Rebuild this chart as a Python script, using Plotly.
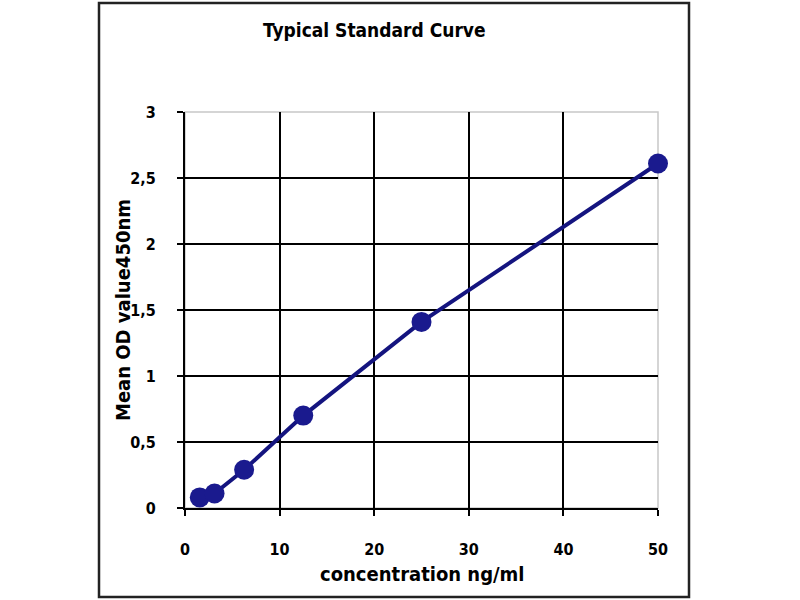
import plotly.graph_objects as go

concentration = [1.56, 3.12, 6.25, 12.5, 25, 50]
mean_od = [0.08, 0.11, 0.29, 0.70, 1.41, 2.61]

x_ticks = [0, 10, 20, 30, 40, 50]
y_ticks = [0, 0.5, 1, 1.5, 2, 2.5, 3]
y_tick_text = ["0", "0,5", "1", "1,5", "2", "2,5", "3"]

FONT = "DejaVu Sans Condensed, Liberation Sans Narrow, Arial Narrow, DejaVu Sans, sans-serif"
NAVY = "#14147f"

fig = go.Figure()
fig.add_trace(go.Scatter(
    x=concentration, y=mean_od, mode="lines+markers",
    line=dict(color=NAVY, width=4),
    marker=dict(color="#1a1a8e", size=20, line=dict(width=0)),
    cliponaxis=False, showlegend=False,
))

# body margin is removed by post_script, so the figure starts at (0, 0)
FW, FH = 800, 600
L, T = 185, 112
R = FW - 658
B = FH - 508
W, H = FW - L - R, FH - T - B


def px(xp):
    return (xp - L) / W


def py(yp):
    return (FH - B - yp) / H


fig.update_layout(
    width=FW, height=FH,
    margin=dict(l=L, r=R, t=T, b=B),
    paper_bgcolor="white", plot_bgcolor="white",
    font=dict(family=FONT, color="black"),
)

fig.update_xaxes(
    range=[0, 50], tickvals=x_ticks, ticks="outside", ticklen=6, tickwidth=2,
    tickcolor="black", showline=True, linecolor="black", linewidth=2,
    showgrid=False, zeroline=False,
    tickfont=dict(size=16, family=FONT, weight="bold"),
    ticklabelstandoff=20,
    minor=dict(tickvals=[10, 20, 30, 40], showgrid=True, gridcolor="black", gridwidth=2, ticks=""),
)
fig.update_yaxes(
    range=[0, 3], tickvals=y_ticks, ticktext=y_tick_text, ticks="outside", ticklen=6, tickwidth=2,
    tickcolor="black", showline=True, linecolor="black", linewidth=2,
    showgrid=False, zeroline=False,
    tickfont=dict(size=16, family=FONT, weight="bold"),
    ticklabelstandoff=18,
    minor=dict(tickvals=[0.5, 1, 1.5, 2, 2.5], showgrid=True, gridcolor="black", gridwidth=2, ticks=""),
)

# light gray plot-area frame (top and right edges)
fig.add_shape(type="rect", xref="paper", yref="paper", x0=0, y0=0, x1=1, y1=1,
              line=dict(color="#c8c8c8", width=1.5), layer="below")

# outer chart border
fig.add_shape(type="rect", xref="paper", yref="paper",
              x0=px(99), x1=px(689), y0=py(597), y1=py(3),
              line=dict(color="#222222", width=2.5), layer="below")

fig.add_annotation(text="Typical Standard Curve", xref="paper", yref="paper",
                   x=px(374), y=py(30), xanchor="center", yanchor="middle", showarrow=False,
                   font=dict(size=19, family=FONT, weight="bold"))
fig.add_annotation(text="concentration ng/ml", xref="paper", yref="paper",
                   x=px(422), y=py(574), xanchor="center", yanchor="middle", showarrow=False,
                   font=dict(size=20, family=FONT, weight="bold"))
fig.add_annotation(text="Mean OD value450nm", xref="paper", yref="paper",
                   x=px(123), y=py(310), xanchor="center", yanchor="middle", showarrow=False,
                   textangle=-90, font=dict(size=20, family=FONT, weight="bold"))

fig.write_html("out.html", config={"displayModeBar": False},
               post_script="document.body.style.margin='0';")
